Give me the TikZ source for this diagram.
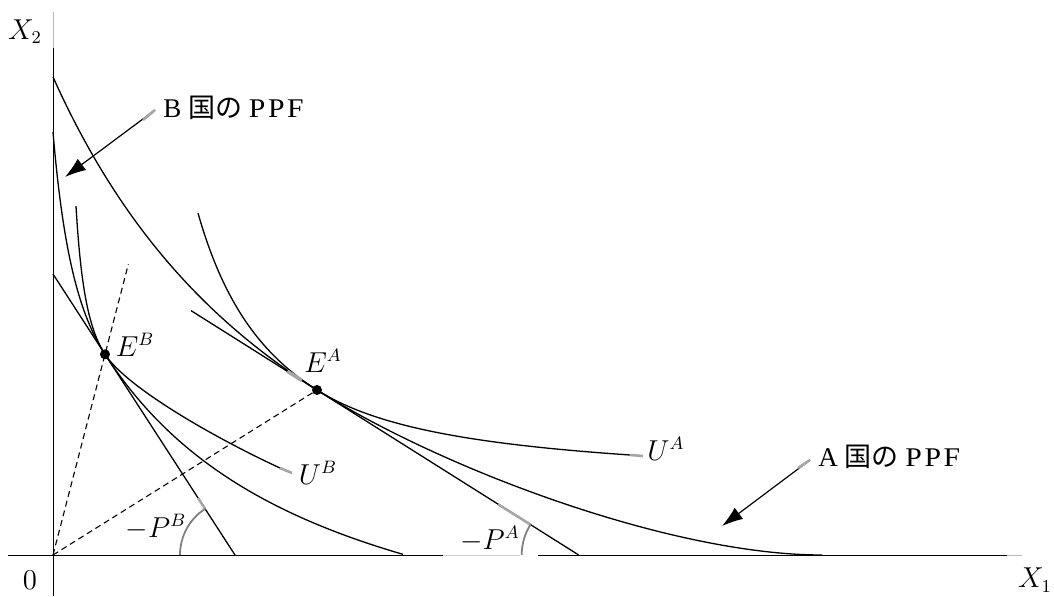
\documentclass[tikz,border=0pt]{standalone}
\usepackage{fontspec}
\setmainfont{Liberation Serif}
\newfontfamily\jpfont{Noto Sans CJK JP}
\usetikzlibrary{arrows.meta}
\newcommand{\wideppf}{\scalebox{1.1}[1]{P}\kern1.3pt\scalebox{1.1}[1]{P}\kern1.3pt\scalebox{1.1}[1]{F}}
\begin{document}
\begin{tikzpicture}[x=0.5pt,y=0.5pt,
  curve/.style={line width=0.65pt},
  axisline/.style={line width=0.5pt},
  greybit/.style={gray!70, line width=1.3pt},
  dashline/.style={line width=0.55pt, dash pattern=on 3pt off 2pt},
  lbl/.style={inner sep=0pt, font=\fontsize{13.5}{16}\selectfont},
  dot/.style={circle, fill=black, inner sep=0pt, minimum size=5pt},
  ptr/.style={line width=0.6pt, -{Latex[length=10.5pt,width=7pt]}},
  anglearc/.style={gray, line width=0.9pt}]
\useasboundingbox (-53,-41) rectangle (1001,555);
% axes
\coordinate (O) at (0,0);
\coordinate (Ybot) at (0,-41);
\coordinate (Ytop) at (0,507);
\coordinate (Ytip) at (0,543);
\draw[axisline] (Ybot) -- (Ytop);
\draw[axisline, gray!55] (Ytop) -- (Ytip);
\coordinate (Xl) at (-45,0);
\coordinate (Xg1) at (390,0);
\coordinate (Xg2) at (467,0);
\coordinate (Xg3) at (485,0);
\coordinate (Xr) at (954,0);
\coordinate (Xtip) at (969,0);
\draw[axisline] (Xl) -- (Xg1);
\draw[axisline, gray!35] (Xg1) -- (Xg2);
\draw[axisline] (Xg3) -- (Xr);
\draw[axisline, gray!55] (Xr) -- (Xtip);
\node[lbl] (x2) at (-28,523) {$X_2$};
\node[lbl] (x1) at (982,-25) {$X_1$};
\node[lbl] (zero) at (-23,-25) {$0$};
% tangency points
\coordinate (EA) at (264,165);
\coordinate (EB) at (52,200.7);
% dashed rays
\coordinate (RB) at (75.4,291);
\draw[dashline] (O) -- (EA);
\draw[dashline] (O) -- (RB);
% price lines
\coordinate (PAs) at (138,244.4);
\coordinate (PAe) at (525.7,0);
\coordinate (PBs) at (0,281);
\coordinate (PBe) at (182,0);
\draw[curve] (PAs) -- (PAe);
\draw[curve] (PBs) -- (PBe);
% A PPF
\draw[curve] plot[domain=0:264, samples=120, variable=\u] (\u, {2004.3/((\u+299.8)/100) - 190.5});
\draw[curve] (EA) .. controls (390.9,85) and (619,0) .. (769,0);
% U^A
\draw[curve] plot[domain=145:264, samples=100, variable=\u] (\u, {269.11/((\u-57.4)/100) + 34.7});
\draw[curve] plot[domain=264:577, samples=120, variable=\u] (\u, {148.95/((\u-110.3)/100) + 68.1});
\coordinate (UAe) at (577,100);
\coordinate (UAt) at (590,99);
\draw[greybit] (UAe) -- (UAt);
% B PPF
\draw[curve] plot[domain=0:52, samples=100, variable=\u] (\u, {102.31/((\u+29.4)/100) + 75});
\draw[curve] plot[domain=52:350, samples=120, variable=\u] (\u, {811.1/((\u+177.2)/100) - 153.2});
% U^B
\draw[curve] plot[domain=23:52, samples=80, variable=\u] (\u, {26.656/((\u-10.45)/100) + 136.55});
\coordinate (UBe) at (227,87);
\coordinate (UBt) at (239,82);
\draw[curve] (EB) .. controls (73.8,167.1) and (163.4,116.3) .. (UBe);
\draw[greybit] (UBe) -- (UBt);
% grey artefacts near tangency and angles
\coordinate (gA1) at (234.4,183.7);
\coordinate (gA2) at (248.8,174.6);
\draw[gray!70, line width=1.8pt] (gA1) -- (gA2);
\coordinate (gPA1) at (477.5,30.4);
\coordinate (gPA2) at (445.3,50.6);
\draw[greybit] (gPA1) -- (gPA2);
\coordinate (gPB1) at (152.1,46.1);
\coordinate (gPB2) at (145,57);
\draw[greybit] (gPB1) -- (gPB2);
% angle arcs
\draw[anglearc] (PBe) ++(-55,0) arc[start angle=180, end angle=122.92, radius=27.5pt];
\draw[anglearc] (PAe) ++(-57,0) arc[start angle=180, end angle=147.77, radius=28.5pt];
% dots
\node[dot] (dotA) at (EA) {};
\node[dot] (dotB) at (EB) {};
% labels
\node[lbl] (lEB) at (82,210) {$E^B$};
\node[lbl] (lEA) at (270,194) {$E^A$};
\node[lbl] (lUA) at (613,106) {$U^A$};
\node[lbl] (lUB) at (265,82) {$U^B$};
\node[lbl] (lPB) at (103,28) {$-P^B$};
\node[lbl] (lPA) at (437,16) {$-P^A$};
% PPF labels with arrows
\node[lbl, anchor=west] (ppfB) at (110,447) {B {\jpfont 国の} \wideppf};
\node[lbl, anchor=west] (ppfA) at (765,98) {A {\jpfont 国の} \wideppf};
\coordinate (aBs) at (102,445);
\coordinate (aBg) at (90,435);
\coordinate (aBt) at (12,378);
\draw[ptr] (aBs) -- (aBt);
\draw[greybit] (aBs) -- (aBg);
\coordinate (aAs) at (757,95);
\coordinate (aAg) at (745,87);
\coordinate (aAt) at (669,29);
\draw[ptr] (aAs) -- (aAt);
\draw[greybit] (aAs) -- (aAg);
\end{tikzpicture}
\end{document}
